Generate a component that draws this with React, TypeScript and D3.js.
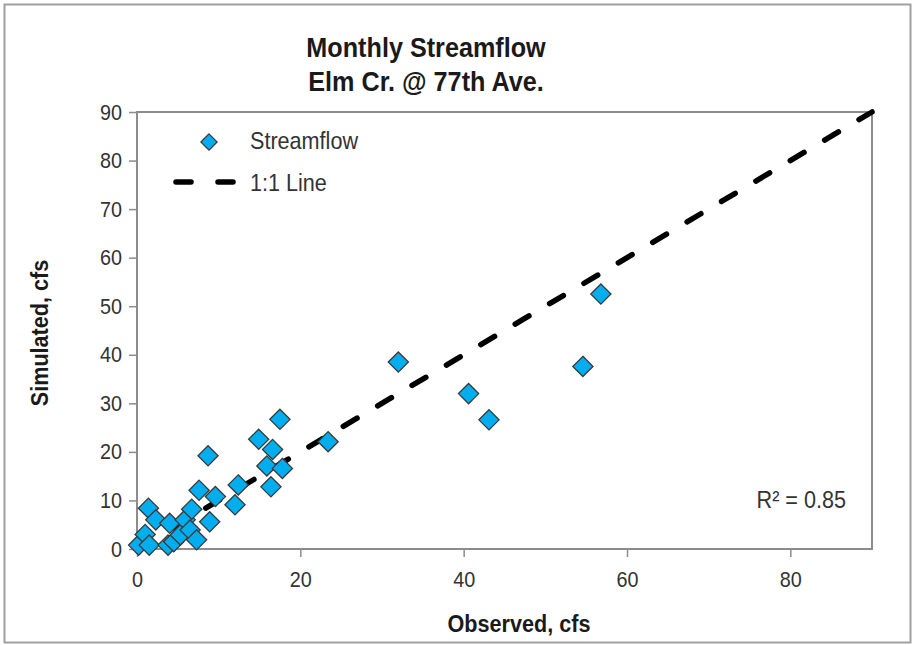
import * as d3 from "d3";
import { useEffect, useRef } from "react";

// observed vs simulated monthly flow, cfs
const observed = [
  0.2, 1.0, 1.5, 1.4, 2.3, 3.8, 4.0, 4.5, 5.3, 5.9, 6.5, 6.7, 7.3, 7.6, 8.7,
  8.9, 9.6, 12.0, 12.4, 14.9, 15.9, 16.4, 16.6, 17.5, 17.8, 23.4, 32.0, 40.6,
  43.1, 54.6, 56.8,
];
const simulated = [
  0.8, 3.0, 0.8, 8.4, 6.0, 0.8, 5.3, 1.5, 2.9, 6.0, 3.9, 8.2, 1.9, 12.1, 19.2,
  5.6, 10.8, 9.1, 13.2, 22.6, 17.1, 12.8, 20.5, 26.7, 16.6, 22.1, 38.5, 32.0,
  26.6, 37.6, 52.5,
];
const xTicks = [0, 20, 40, 60, 80];
const yTicks = [0, 10, 20, 30, 40, 50, 60, 70, 80, 90];
const oneToOne = [0, 90];

const W = 912;
const H = 645;
const margin = { top: 112, right: 40, bottom: 96, left: 137 };
const font = "'Liberation Sans', Arial, sans-serif";
const narrow = 0.9; // squeeze a bit, the original uses a narrow face
const fill = "#00aeef";

// narrow text placed at (x, y)
function addText(parent, x, y, str, size, opts: any = {}) {
  return parent
    .append("text")
    .attr("transform", `translate(${x},${y}) ${opts.rotate ? "rotate(-90) " : ""}scale(${narrow},1)`)
    .attr("text-anchor", opts.anchor || "start")
    .attr("font-family", font)
    .attr("font-size", size)
    .attr("font-weight", opts.bold ? "bold" : "normal")
    .attr("fill", opts.color || "#333")
    .text(str);
}

export default function App() {
  const svgRef = useRef(null);

  useEffect(() => {
    const svg = d3.select(svgRef.current);
    svg.selectAll("*").remove();

    const x = d3.scaleLinear().domain([0, 90]).range([margin.left, W - margin.right]);
    const y = d3.scaleLinear().domain([0, 90]).range([H - margin.bottom, margin.top]);

    // outer frame
    svg
      .append("rect")
      .attr("x", 4.5)
      .attr("y", 4.5)
      .attr("width", W - 6)
      .attr("height", H - 7)
      .attr("fill", "#fff")
      .attr("stroke", "#a0a0a0")
      .attr("stroke-width", 2);

    // title
    addText(svg, 426, 57, "Monthly Streamflow", 28, { anchor: "middle", bold: true, color: "#1a1a1a" });
    addText(svg, 426, 91, "Elm Cr. @ 77th Ave.", 28, { anchor: "middle", bold: true, color: "#1a1a1a" });

    // plot area border
    svg
      .append("rect")
      .attr("x", x(0))
      .attr("y", y(90))
      .attr("width", x(90) - x(0))
      .attr("height", y(0) - y(90))
      .attr("fill", "none")
      .attr("stroke", "#8c8c8c")
      .attr("stroke-width", 2);

    // axes
    const yAxis = svg
      .append("g")
      .attr("transform", `translate(${x(0)},0)`)
      .call(d3.axisLeft(y).tickValues(yTicks).tickSize(8).tickPadding(7));
    const xAxis = svg
      .append("g")
      .attr("transform", `translate(0,${y(0)})`)
      .call(d3.axisBottom(x).tickValues(xTicks).tickSize(8).tickPadding(14));
    [xAxis, yAxis].forEach((g) => {
      g.select(".domain").remove();
      g.selectAll("line").attr("stroke", "#8c8c8c").attr("stroke-width", 1.5);
      g.selectAll("text")
        .attr("font-family", font)
        .attr("font-size", 22)
        .attr("fill", "#333")
        .each(function () {
          const t = d3.select(this);
          const tx = +t.attr("x") || 0;
          t.attr("x", tx / narrow).attr("transform", `scale(${narrow},1)`);
        });
    });

    // 1:1 line
    svg
      .append("line")
      .attr("x1", x(oneToOne[0]))
      .attr("y1", y(oneToOne[0]))
      .attr("x2", x(oneToOne[1]))
      .attr("y2", y(oneToOne[1]))
      .attr("stroke", "#000")
      .attr("stroke-width", 5.5)
      .attr("stroke-dasharray", "16 24")
      .attr("stroke-linecap", "round");

    // points
    const diamond = d3.symbol().type(d3.symbolDiamond2).size(260);
    svg
      .append("g")
      .selectAll("path")
      .data(observed.map((o, i) => [o, simulated[i]]))
      .enter()
      .append("path")
      .attr("d", diamond)
      .attr("transform", (d) => `translate(${x(d[0])},${y(d[1])})`)
      .attr("fill", fill)
      .attr("stroke", "#3a3a3a")
      .attr("stroke-width", 1.3);

    // legend
    svg
      .append("path")
      .attr("d", d3.symbol().type(d3.symbolDiamond2).size(170))
      .attr("transform", "translate(209,142)")
      .attr("fill", fill)
      .attr("stroke", "#3a3a3a")
      .attr("stroke-width", 1.2);
    addText(svg, 250, 149, "Streamflow", 24);
    svg
      .append("line")
      .attr("x1", 176)
      .attr("x2", 236)
      .attr("y1", 182)
      .attr("y2", 182)
      .attr("stroke", "#000")
      .attr("stroke-width", 5.5)
      .attr("stroke-dasharray", "15 27")
      .attr("stroke-linecap", "round");
    addText(svg, 250, 191, "1:1 Line", 24);

    // r squared
    addText(svg, 846, 508, "R² = 0.85", 24, { anchor: "end" });

    // axis titles
    addText(svg, 519, 632, "Observed, cfs", 24, { anchor: "middle", bold: true, color: "#1a1a1a" });
    addText(svg, 48, 333, "Simulated, cfs", 24, {
      anchor: "middle",
      bold: true,
      color: "#1a1a1a",
      rotate: true,
    });
  }, []);

  return (
    <svg
      ref={svgRef}
      width={W}
      height={H}
      style={{ position: "absolute", left: 0, top: 0 }}
    ></svg>
  );
}
